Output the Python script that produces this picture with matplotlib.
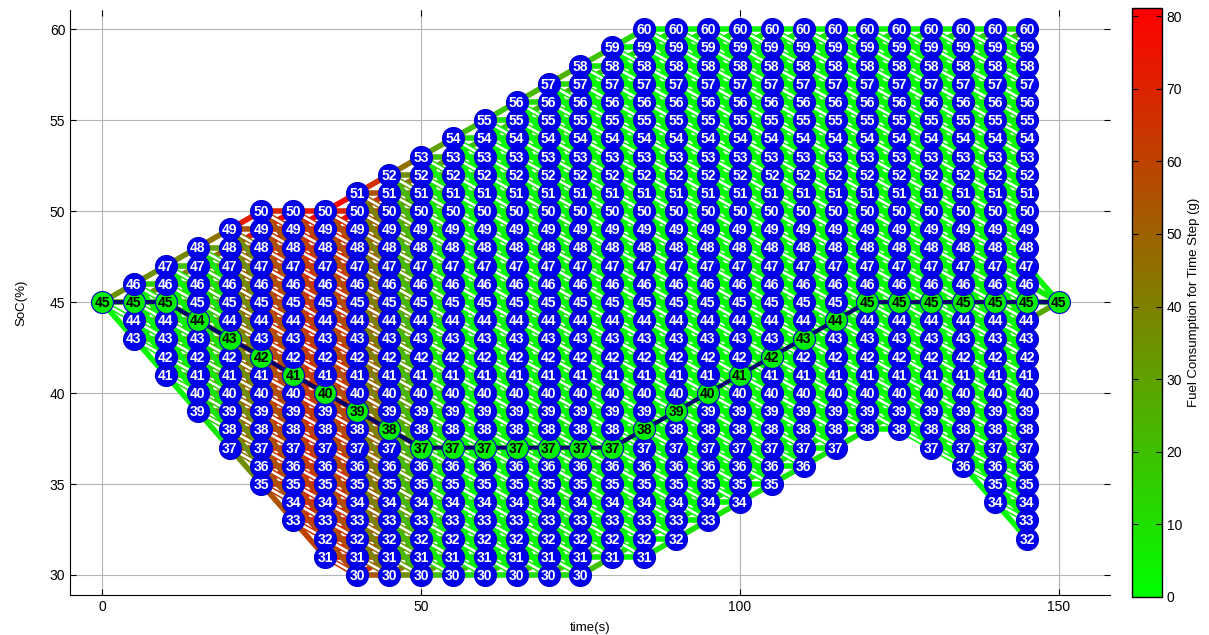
import numpy as np
import matplotlib
matplotlib.use("Agg")
import matplotlib.pyplot as plt
from matplotlib.collections import LineCollection
from matplotlib.colors import LinearSegmentedColormap, Normalize

plt.rcParams['font.family'] = ['Liberation Sans', 'DejaVu Sans']

# time grid (s) and reachable SoC window at each stage
times = list(range(0, 155, 5))
soc_min = [45, 43, 41, 39, 37, 35, 33, 31, 30, 30, 30, 30, 30, 30, 30, 30,
           31, 31, 32, 33, 34, 35, 36, 37, 38, 38, 37, 36, 34, 32, 45]
soc_max = [45, 46, 47, 48, 49, 50, 50, 50, 51, 52, 53, 54, 55, 56, 57, 58,
           59, 60, 60, 60, 60, 60, 60, 60, 60, 60, 60, 60, 60, 60, 45]

# optimal SoC trajectory
best_path = [45, 45, 45, 44, 43, 42, 41, 40, 39, 38, 37, 37, 37, 37, 37, 37,
             37, 38, 39, 40, 41, 42, 43, 44, 45, 45, 45, 45, 45, 45, 45]

# fuel per step (g) for SoC change +1, 0, -1, -2 between stages
fuel_up = [35, 35, 38, 45, 72, 81, 81, 80, 66, 45, 30, 20, 18, 22, 25, 20,
           12, 8, 8, 8, 8, 8, 8, 8, 10, 10, 12, 15, 20, 28]
fuel_hold = [15, 15, 20, 30, 55, 68, 72, 70, 55, 36, 20, 10, 8, 12, 12, 8,
             3, 2, 2, 2, 2, 2, 2, 2, 3, 3, 4, 6, 10, 14]
fuel_down1 = [5, 5, 8, 15, 45, 62, 66, 64, 48, 30, 12, 4, 3, 5, 5, 2,
              0, 0, 0, 0, 0, 0, 0, 0, 0, 0, 0, 2, 4, 6]
fuel_down2 = [2, 2, 3, 8, 36, 55, 60, 56, 40, 22, 6, 0, 0, 0, 0, 0,
              0, 0, 0, 0, 0, 0, 0, 0, 0, 0, 0, 0, 0, 2]
steps = [1, 0, -1, -2]

cmap = LinearSegmentedColormap.from_list('fuel', ['#00ff00', '#ff0000'])
norm = Normalize(vmin=0, vmax=81.1)

fig = plt.figure(figsize=(12.09, 6.35), dpi=100)
ax = fig.add_axes([0.058, 0.063, 0.860, 0.921])
cax = fig.add_axes([0.936, 0.060, 0.025, 0.927])

segs, cols, white = [], [], []
for k in range(len(times) - 1):
    t0, t1 = times[k], times[k + 1]
    fuels = [fuel_up[k], fuel_hold[k], fuel_down1[k], fuel_down2[k]]
    for s in range(soc_min[k], soc_max[k] + 1):
        for d, f in zip(steps, fuels):
            s1 = s + d
            if soc_min[k + 1] <= s1 <= soc_max[k + 1]:
                segs.append([(t0, s), (t1, s1)])
                cols.append(cmap(norm(f)))
                if d == -1 and k < 29:
                    white.append([(t0, s), (t1, s1)])

ax.add_collection(LineCollection(segs, colors=cols, linewidths=4, zorder=2))
ax.add_collection(LineCollection(white, colors='white', linewidths=1.8, zorder=3))

# optimal path
ax.plot(times, best_path, color='#000070', lw=3, zorder=4)

# nodes
for k, t in enumerate(times):
    for s in range(soc_min[k], soc_max[k] + 1):
        on_path = (s == best_path[k])
        ax.scatter(t, s, s=250, c='#00ee00' if on_path else '#0000ee',
                   edgecolors='#0000cc', linewidths=0.8, zorder=5)
        ax.text(t, s - 0.05, str(s), ha='center', va='center', fontsize=10,
                fontweight='bold', color='black' if on_path else 'white', zorder=6)

ax.set_xlim(-5, 158)
ax.set_ylim(28.9, 61.05)
ax.set_xticks([0, 50, 100, 150])
ax.set_yticks(range(30, 61, 5))
ax.grid(True, color='#b4b4b4', lw=0.8)
ax.set_axisbelow(True)
ax.tick_params(direction='in', labelsize=10, length=4, top=True, right=True)
for side in ['top', 'right']:
    ax.spines[side].set_visible(False)
ax.set_xlabel('time(s)', fontsize=9.5, labelpad=6)
ax.set_ylabel('SoC(%)', fontsize=9.5, labelpad=16)

sm = plt.cm.ScalarMappable(norm=norm, cmap=cmap)
cb = fig.colorbar(sm, cax=cax, ticks=range(0, 81, 10))
cb.outline.set_linewidth(1)
cb.ax.tick_params(labelsize=10, direction='in', length=4, left=True)
cb.set_label('Fuel Consumption for Time Step (g)', fontsize=9.5)

fig.savefig('out.png', dpi=100)
